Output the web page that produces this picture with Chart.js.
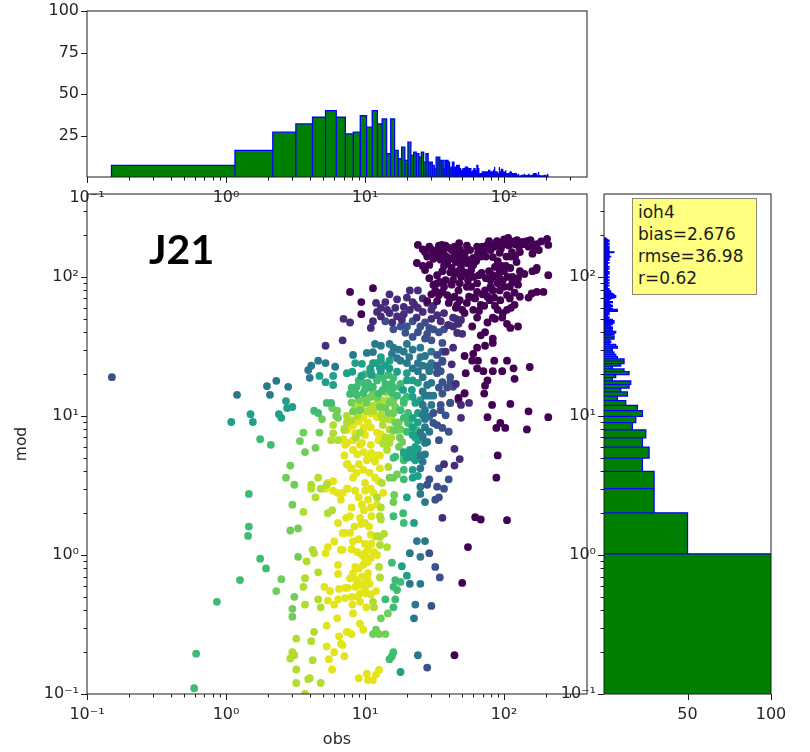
<!DOCTYPE html>
<html>
<head>
<meta charset="utf-8">
<script src="https://cdn.jsdelivr.net/npm/chart.js@4"></script>
<style>
  html, body { margin: 0; background: #fff; }
  #page { position: relative; width: 810px; height: 752px; overflow: hidden; }
  #page canvas { position: absolute; left: 0; top: 0; }
  #tag { position: absolute; left: 149px; top: 224px; font: 700 41px Lato, sans-serif; color: #000; }
  #stats { position: absolute; left: 632px; top: 198px; width: 118px; height: 91px; padding: 2px 0 2px 5px;
           background: #ffff80; border: 1px solid #8c8c70; font: 17px/22px "DejaVu Sans", sans-serif; color: #1c1c1c; }
</style>
</head>
<body>
<div id="page">
  <canvas id="mainChart" width="810" height="752"></canvas>
  <canvas id="topChart" width="810" height="752"></canvas>
  <canvas id="rightChart" width="810" height="752"></canvas>
  <div id="tag">J21</div>
  <div id="stats">ioh4<br>bias=2.676<br>rmse=36.98<br>r=0.62</div>
</div>
<script>
// axis values
const logTicks = [0.1, 1, 10, 100];
const logTickLabels = ["10\u207B\u00B9", "10\u2070", "10\u00B9", "10\u00B2"];
const minorFactors = [2, 3, 4, 5, 6, 7, 8, 9];
const logMin = 0.1;
const logMax = 395;

// histogram of obs: equal bins, counts
const obsBinStart = 0.15;
const obsBinWidth = 1.01;
const obsCounts = [7,16,27,32,36,40,36,26,27,37,30,40,32,35,14,35,16,11,18,10,21,13,15,14,12,15,9,14,9,9,7,5,12,
  12,10,10,5,10,10,9,5,6,9,5,6,7,7,5,3,4,5,5,6,6,5,4,5,3,2,4,5,4,3,7,5,2,2,2,1,3,2,3,3,
  3,3,3,2,4,3,3,3,2,3,4,6,2,3,3,2,2,1,6,2,3,5,1,5,2,3,1,1,4,2,2,1,2,1,1,3,1,3,1,0,
  0,2,1,2,0,1,0,2,0,1,0,1,2,0,1,0,1,0,1,0,1,0,1,1,0,2,0,1,0,1,0,1,0,1,0,2,1,0,1,0,
  1,0,1,0,1,1,0,1,0,2,1,0,1,0,2,1,0,1,0,1,0,3,1,1,0,1,0,1,1,0,1,0,0,1,1,0,1,0,0,1,
  0,1,0,0,1,0,0,1,0,2,0,1];

// histogram of mod: equal bins, counts
const modBinStart = 0.03;
const modBinWidth = 0.99;
const modCounts = [140,50,30,30,23,27,23,25,17,19,23,20,13,8,14,10,15,16,5,7,15,12,5,10,12,
  12,8,7,6,5,5,8,7,3,4,3,6,6,4,6,7,5,4,5,4,3,5,6,6,5,2,3,1,2,3,2,3,8,8,5,3,4,5,4,2,
  3,5,3,2,3,4,6,7,7,5,6,5,4,3,4,3,2,3,2,1,2,1,3,2,1,2,3,1,2,1,3,1,2,2,1,3,2,1,2,1,
  1,3,2,1,3,1,2,1,1,2,3,1,2,1,3,2,1,2,1,2,2,1,3,1,2,1,1,2,3,1,2,1,3,2,1,2,4,2,1,3,
  2,1,2,3,1,2,5,6,3,2,1,3,2,1,2,3,2,1,3,1,2,3,2,2,1,2,2,3,1,2,3,2,1,2,2,1,3,2,2,1,
  3,2,1,2,1,1,1,1];

// scatter points as [obs, mod], one list per density colour
const darkPoints = [[107,191],[124,184],[146,181],[155,184],[204,188],[208,170],[172,172],[178,156],[160,147],[130,151],
  [114,151],[97,175],[85,165],[93,149],[80,156],[76,170],[71,151],[83,139],[65,149],[60,137],[57,156],[52,144],[50,128],
  [60,122],[47,149],[42,156],[39,139],[45,128],[49,118],[36,151],[33,156],[31,149],[35,133],[39,126],[42,116],[27,151],
  [24,170],[29,165],[35.8,170],[47.5,175],[64,165],[78,181],[89,181],[100,186],[118,180],[136,179],[95,160],[70,165],
  [54,168],[40,162],[30,158],[44,143],[56,132],[68,140],[23.6,126],[26,120],[29,122],[27,112],[33,103],[29,98],[38,95],
  [34.5,92],[31,88],[43,95],[49,100],[55,95],[64,90],[69,107],[83,103],[93,109],[111,116],[123,128],[172,116],[160,110],
  [208,103],[126,98],[126,88],[98,95],[90,90],[80,85],[93,80],[105,74],[119,77],[192,78],[172,78],[158,76],[150,71],
  [119,63],[105,58],[90,58],[98,55],[85,71],[76,72],[68,63],[54,65],[60,58],[64,51],[50,58],[46,63],[40,65],[44,72],[39,74],
  [47,80],[54,85],[64,78],[60,71],[73,80],[83,80],[34,74],[32,80],[33,67],[28,67],[59,44],[76,47],[83,51],[97,51],[105,46],
  [111,43],[126,44],[73,40],[68,38],[83,36],[83,33.5],[73,32],[64,31],[60,28],[85,25],[105,25],[153,22.5],[83,21],[97,21],
  [117,22],[119,18.5],[76,18],[73,16.5],[72,14.5],[82,12],[111,12.2],[150,10.8],[208,9.8],[76,9.8],[94,8.9],[88,8.2],[102,8.2],
  [146,8],[90,5.2],[88,3.6],[62,1.87],[68,1.8],[105,1.78],[55,1.14],[50,0.63],[44,0.19],[7.8,78],[11.4,83],[9.4,66],[9.4,54],
  [53,20.3],[47,13.5],[52,14.6],[65,25],[59,25],[52,27],[64,22],[71,21],
  [33,140],[37,145],[41,135],[46,140],[51,135],[55,125],[52,150],[48,158],[44,165],[38,168],[34,168],[31,135],[28,140],[26,158],
  [37,120],[41,108],[47,110],[52,108],[58,112],[63,130],[68,150],[74,140],[78,160],[86,172],[92,168],[102,172],[108,168],[112,178],
  [120,172],[128,165],[140,172],[90,130],[96,120],[100,110],[106,100],[115,92],[103,120],[86,118],[78,110],[74,98],[66,103],[60,100],
  [54,105],[44,105],[36,110],[33,90],[37,85],[42,88],[48,90],[58,85],[62,70],[70,75],[79,68],[86,62],[94,68],[100,85],[110,85],
  [115,100],[130,110],[140,105],[30,75],[36,78],[41,70],[45,60],[52,55],[56,72],[48,68],[66,57],[72,62],[112,140],[120,140],[104,140],
  [150,165],[165,165],[185,180],[110,70],[130,72],[80,95],[86,100],[92,100],[112,60],[170,112],[86,50]];

const purplePoints = [[7,50],[7.8,47],[15,75],[21,80],[24,80],[12,65],[14,66],[17,69],[20,71],[22,66],[28,65],[12.2,56],
  [14.4,58],[16.5,60],[19,61],[22.7,63],[11.4,48],[11,43],[13,52],[15.7,47],[18.4,49],[23.5,51],[26,56],[33,53],[35,48],
  [39.5,45],[43,51],[45,50],[49,49],[47,46],[46,39.5],[50,39],[5.2,32],[6.9,35],[44,5.8],[48,4.9],[44,4.4],[37,4.5],[36,1.85],
  [49,9.7],[49,12],[56,12.4],[52,14.5],[47,13],[45,17],[42,23.5],[43,31],[38,29],
  [13,60],[15,55],[17,52],[19,54],[21,58],[24,60],[26,70],[30,50],[30,58],[31,62],[37,55],[40,45],[43,44]];

const bluePoints = [[0.151,19],[18,44],[19.5,39.6],[27,47],[29,43],[24,40],[34,40],[22,37],[27,36],[30,35],[36,33.5],[33,27.5],
  [36,24.5],[35,21],[33,20.5],[41,19],[39,16],[36,14.5],[41,12.4],[36,29],[36,25],[43,16.2],[41,17.3],[36,17.5],
  [34,4.2],[40,3.5],[33,3.1],[37,3],[34,2.6],[32,2.5],[30,0.43],[32,0.82],[34.5,0.69],[29,1.03],[28,0.155],[29,3.5],[28,3.2],
  [33,8.6],[36,8.2],[40,7.7],[38,10.1],[35,11],[35,12],[41,12.4],[34,6.7],
  [14,48],[16,42],[20,44],[22,48],[25,44],[37,42],[31,42],[28,39],[33,23],[34,16],[31,10.5],[31,8.9]];

const tealPoints = [[1.2,14.2],[1.97,16.4],[2.3,17.9],[2.07,14.2],[2.8,16.2],[3.9,21.4],[4.1,23],[4.6,25],[5.2,24],[6.1,22.6],
  [4,18.8],[8.2,27.5],[10.3,28.4],[11.4,28.8],[11.8,33],[13,32],[15,33],[20,33],[17.5,30],[15.6,28],[18,25],[20.8,26.5],[25,31],
  [25,26.5],[28.5,22.6],[26,23],[30,29],[33,20.3],[30,17.3],[28,16.7],[26,15],[30,12],[29,9.9],[26,12],[27,8.3],[29,7.7],[26,10.1],
  [27,6.4],[27,5.3],[25,5.2],[25,4.2],[25,3.1],[25,2.75],[27,2.4],[26,7.1],[23.6,1.26],[27,1.26],[25,0.97],[25,0.62],[24,0.19],
  [23,0.44],[22.5,0.35],[21,1.03],[21,0.62],
  [17,26],[22,22],[24,24],[19,29],[16,31],[22,30],[27,27],[20,24],[26,19],[29,21],[31,23],[24,21],[30,24],[31,14],[29,14],[27,14],
  [27,11],[27,9.5],[25,7.6],[28,6.5],[26,4.7]];

const seaPoints = [[1.09,9.05],[1.5,10.3],[1.56,9.05],[2.7,12.8],[2.75,11.4],[3,11.6],[2.4,10.3],[2.5,9.7],[4.7,19.4],[5.9,19.4],
  [5.2,17.5],[5.9,16.7],[7.4,20.3],[8.1,20.8],[8.5,24],[9.5,23.7],[13,26.5],[11.4,24],[13,25],[10.9,22],[12.8,22],[9.4,19.4],
  [11.1,19.7],[15,22],[17,20.8],[20,20.3],[20,18],[24,17.3],[21.7,15.4],[18.8,15.4],[22,13.7],[23,12.4],[24,6.7],[23,6],[21,5.7],
  [23,4.8],[22,4.1],[22,3.6],[20,2.6],[22.5,1.7],[20,0.71],[18.4,0.83],[18,0.144],[19,5.5],[20,5],[21,5.5],[22,5],[22,7.3],[22,8.3],
  [15,25],[22,18],[25,13],[24,10.5],[24,9],[22,9.7],[23,7],[24,5.8],[23,5.5],[24,3.7],[14,23],[12,24],[11,21],[13,21]];

const greenPoints = [[1.76,6.8],[2.1,6.2],[5.3,12.4],[5.7,12.4],[4.3,10.9],[4.6,10.5],[7.8,14.4],[8.5,14.6],[9.7,14.6],[8,16],[8.7,16.2],
  [9.7,17.3],[10.5,17.3],[12.2,18],[13.4,18.8],[14.7,19.7],[16,18.8],[8.7,14.2],[11.4,16.2],[13.4,15.4],[15.6,14.6],[18,11],
  [19,12.4],[20,13.7],[19,13],[20.4,10.5],[19,9.7],[21,9.4],[20,7.7],[20.4,8.9],[23.6,7.9],[24,7],[19,5.2],[19,4.8],[19,4.1],[19,3.5],
  [16,5],[16.5,5.1],[16,1.9],[18.8,2],[19,1.7],[16.5,0.66],[18,0.64],[16,0.59],[17,0.56],[16.5,0.48],[15.6,0.88],[16,0.2],[15.6,0.187],
  [15,0.178],[16,0.42],[14,0.48],[1.46,2.75],[1.46,1.6],[1.44,1.37],[0.61,0.195],[0.59,0.11],[0.86,0.46],[1.26,0.66],[1.76,0.94],[1.94,0.8],
  [10,20],[12,19],[14,17],[15.5,17],[11,16],[12.5,14.5],[10,15.5],[9,18],[16,16],[18,17],[17,14],[18,16],[15,16]];

const lightPoints = [[5.8,11.4],[6.3,10.9],[6.2,10],[6.4,9.7],[4.9,9.5],[3.6,7.6],[4.7,7.6],[3.4,6.6],[3.7,5.5],[4.4,5.9],[2.9,4.4],
  [2.7,3.6],[3.1,3.2],[3,2.3],[2.5,0.67],[2.3,0.55],[2.9,1.5],[3.3,1.55],[3.3,0.97],[3.1,0.5],[3,0.41],[3,0.36],[9.2,11],[8.2,10.8],
  [10.3,12.4],[11,13.7],[12.2,13.5],[11.4,14.9],[14,14.9],[12.8,11.6],[14,11.4],[16.5,11.6],[14.7,10.5],[16.5,7.9],[16,7.9],[17,3.8],
  [16,3.6],[15,3.6],[16.2,2.7],[16,2.4],[14,0.27],[14.6,0.38],[13,0.35],[12.6,0.27],[11.4,0.27],[12,0.29],
  [8,12.5],[9,13],[10,13.5],[15,12.5],[16,13],[16,10.5],[16.5,9],[17,8],[17.8,7],[17.5,9],[18,8],[18.5,6.5],[17.5,6]];

const limePoints = [[5.9,8.6],[7.1,8.1],[5.9,7.5],[5.7,6.7],[6.4,6.7],[4.6,3.6],[4.1,3.2],[4.1,3],[4.8,3],[5.3,3.2],[4.4,2.6],[3.6,2.04],
  [5.4,2],[5.8,2.1],[3.8,0.9],[4.2,1.09],[4.3,1.03],[4.6,0.75],[3.7,0.68],[3.6,0.59],[3.7,0.44],[4.6,0.48],[4.8,0.42],[4.3,0.28],[3.2,0.25],
  [4.1,0.24],[3,0.2],[3.1,0.19],[2.9,0.18],[4.2,0.175],[3.2,0.15],[4,0.13],[3.9,0.128],[4.8,0.12],[3.2,0.12],[3.7,0.1],[7.4,10],[7.1,7.9],
  [9.2,7.6],[8.6,7],[13.4,8.6],[15,9.4],[14,7],[14.4,5.7],[14.7,4.3],[13.2,3.3],[12.2,2.6],[12.8,1.9],[13,1.8],[13.7,1.42],[14.4,1.14],
  [12.8,1.18],[12.8,1.35],[12.2,1.37],[13,2.2],[12.8,0.69],[12.6,0.82],[11.4,0.46],[11.6,0.42],
  [8.5,11.5],[9.5,12],[10.8,11],[11.5,11.8],[13,10.2],[13,13],[15.5,10],[13.2,12.2],[14.5,13],[12,12],[11.5,10.8],[13.5,9.5],[10.3,10.8],
  [8.8,10],[8,9.3],[7.4,9],[15,8],[15.5,7],[15,6.4],[13.5,6.3]];

const yellowPoints = [[7,6.8],[7.4,6.4],[7.1,5.2],[7.4,4.5],[7.9,4.2],[5.4,3.3],[5.9,3.4],[5.2,3],[5.9,2.9],[6.3,2.8],[6.9,2.8],[7.5,3],[6.7,2.5],
  [6.4,1.7],[7.3,1.85],[7.1,1.44],[5.4,1.14],[5.2,1.03],[6.7,1.09],[6.4,0.85],[6.4,0.73],[5.1,0.59],[5.6,0.55],[6.5,0.57],[7.2,0.58],[7.2,0.49],
  [5.4,0.47],[6,0.44],[6.4,0.48],[6.3,0.35],[5.3,0.31],[6.5,0.26],[6.7,0.23],[5.3,0.22],[6,0.2],[7.1,0.187],[7.5,0.28],[5.5,0.178],[5.8,0.15],
  [6.9,1.44],[7.8,1.44],[11.8,1.35],[11.1,1.2],[10,1.2],[10.5,1.09],[10,1.03],[8,1.1],[6.9,1.09],[10.5,0.89],[9.7,0.85],[9,0.8],
  [8.2,0.74],[10.5,0.74],[8.7,0.66],[8.5,0.59],[7.5,0.58],[9.2,0.61],[10,0.58],[9.2,0.53],[10.2,0.53],[9.2,0.46],[8.1,0.44],[10.2,0.42],
  [8.2,0.38],[9.2,0.32],[9.7,0.29],[7.4,0.28],[8,0.27],[6.9,0.225],[9,0.13],[10.3,0.14],[12.6,0.149],[12,0.138],[10.5,0.126],[11.4,0.126],
  [9,9.1],[9.7,9.7],[11,10.4],[12.2,9.8],[11,8.3],[12.2,7.6],[10,7.3],[9.2,6.2],[11,6.2],[12.8,5.2],[11.1,5.4],[10.3,4.8],[11.8,4.7],[12.8,4.2],
  [11.8,3.6],[9.7,4.1],[10,3.3],[8.2,3.6],[11,3],[9,2.6],[10.5,2.5],[12.2,2.3],[9.8,2.1],[11.1,1.9],[9.2,1.85],[9.4,1.67],[10.7,1.6],[7,1.44],
  [8.2,5.7],[7.2,6.2],[7.5,4.5],[8,4.2],[7.4,3],[9.5,6.4],[8.5,7.5],[8.2,6.7],[11.4,5],[12.2,5.2],[10.5,5],
  [12.5,6.7],[10.5,9],[9.8,8.2],[8.2,8.5],[7.5,8],[13,7.4],[8.8,5.3],[9.8,5.5],[9,4.5],[8.7,3.9],[10.8,3.9],[12.5,3.4],[11.5,2.8],[13.5,2.8],[10,2.9],[8.5,2.9],
  [8,2.2],[9.5,2.3],[11,2.2],[10,1.7],[7.8,1.9],[8.4,1.6],[11,1.4],[9,1.3],[8.2,1.25],[6,1.25],[11,0.95],[11.6,1.05],[12.2,1],[9.5,1],[8.8,1.05],
  [9.8,0.62],[10.8,0.62],[11,0.52],[12,0.55],[8,0.5],[8.9,0.5],[7.8,0.68],[8.5,0.82],[10,0.95],[10.4,0.68],[9.5,0.7]];

const pointGroups = [darkPoints, purplePoints, bluePoints, tealPoints, seaPoints, greenPoints, lightPoints, limePoints, yellowPoints];
const groupColors = ["#440154", "#472c7a", "#3b518b", "#2a788e", "#1fa088", "#3fbc73", "#6ece58", "#b0dd2f", "#e3e419"];

const textColor = "#262626";
const tickFont = { family: "'DejaVu Sans'", size: 16 };

// spines and tick marks, minor ones are shorter than in Chart.js grid options
const frameTicks = {
  id: "frameTicks",
  afterDatasetsDraw(chart) {
    const c = chart.ctx, a = chart.chartArea;
    c.save();
    c.strokeStyle = "#1c1c1c";
    c.lineWidth = 1;
    c.strokeRect(a.left, a.top, a.right - a.left, a.bottom - a.top);
    for (const id of ["x", "y"]) {
      const s = chart.scales[id];
      let marks = [];
      if (s.type === "logarithmic") {
        for (const d of logTicks) {
          marks.push([d, 6]);
          for (const m of minorFactors) {
            if (d * m <= logMax) marks.push([d * m, 3.5]);
          }
        }
      } else {
        marks = s.ticks.filter(t => t.value > 0).map(t => [t.value, 6]);
      }
      c.beginPath();
      for (const [v, len] of marks) {
        const p = Math.round(s.getPixelForValue(v)) + 0.5;
        if (id === "x") { c.moveTo(p, a.bottom); c.lineTo(p, a.bottom + len); }
        else { c.moveTo(a.left, p); c.lineTo(a.left - len, p); }
      }
      c.stroke();
    }
    c.restore();
  }
};

function logAxis(horizontal, extra) {
  return Object.assign({
    type: "logarithmic",
    min: logMin,
    max: logMax,
    grid: { display: false, drawTicks: true, tickLength: 6 },
    border: { display: false },
    afterBuildTicks: s => { s.ticks = logTicks.map(v => ({ value: v })); },
    ticks: {
      color: textColor, font: tickFont, padding: horizontal ? 5 : 2, autoSkip: false, maxRotation: 0, minRotation: 0,
      callback: (v, i) => logTickLabels[i]
    }
  }, extra);
}

function countAxis(step, horizontal, extra) {
  return Object.assign({
    type: "linear",
    min: 0,
    max: 100,
    grid: { display: false, drawTicks: true, tickLength: 6 },
    border: { display: false },
    ticks: {
      color: textColor, font: tickFont, padding: horizontal ? 5 : 2, stepSize: step,
      callback: v => (v === 0 ? "" : String(v))
    }
  }, extra);
}

// fix the outer size of a scale so the plot boxes land where the figure has them
function fixHeight(h) {
  return s => { s.height = h; s.paddingLeft = s.paddingRight = s.paddingTop = s.paddingBottom = 0; };
}
function fixWidth(w) {
  return s => { s.width = w; s.paddingLeft = s.paddingRight = s.paddingTop = s.paddingBottom = 0; };
}

// outline of a histogram: every bin goes down to the base so the separators show
function barOutline(start, width, counts, countKey, binKey) {
  const out = [];
  counts.forEach((n, i) => {
    const lo = start + i * width, hi = lo + width;
    for (const [b, v] of [[lo, 0], [lo, n], [hi, n], [hi, 0]]) {
      out.push({ [binKey]: b, [countKey]: v });
    }
  });
  return out;
}

function histDataset(points) {
  return {
    data: points, showLine: true, pointRadius: 0, borderColor: "#0000ff", borderWidth: 1.3,
    backgroundColor: "#008000", fill: "origin", tension: 0
  };
}

const baseOptions = { responsive: false, animation: false, events: [], plugins: { legend: { display: false }, tooltip: { enabled: false } } };

new Chart(document.getElementById("mainChart"), {
  type: "scatter",
  data: {
    datasets: pointGroups.map((g, i) => ({
      data: g.map(p => ({ x: p[0], y: p[1] })),
      backgroundColor: groupColors[i],
      borderWidth: 0,
      pointRadius: 3.9
    }))
  },
  options: Object.assign({}, baseOptions, {
    layout: { padding: { left: 0, top: 194, right: 223, bottom: 0 } },
    scales: {
      x: logAxis(true, {
        afterFit: fixHeight(58),
        title: { display: true, text: "obs", color: textColor, font: { family: "'DejaVu Sans'", size: 16 }, padding: { top: 3, bottom: 3 } }
      }),
      y: logAxis(false, {
        afterFit: fixWidth(87),
        title: { display: true, text: "mod", color: textColor, font: { family: "'DejaVu Sans'", size: 15.5 }, padding: { top: 13, bottom: 13 } }
      })
    }
  }),
  plugins: [frameTicks]
});

new Chart(document.getElementById("topChart"), {
  type: "scatter",
  data: { datasets: [histDataset(barOutline(obsBinStart, obsBinWidth, obsCounts, "y", "x"))] },
  options: Object.assign({}, baseOptions, {
    layout: { padding: { left: 0, top: 11, right: 223, bottom: 0 } },
    scales: {
      x: logAxis(true, { afterFit: fixHeight(575) }),
      y: countAxis(25, false, { afterFit: fixWidth(87) })
    }
  }),
  plugins: [frameTicks]
});

new Chart(document.getElementById("rightChart"), {
  type: "scatter",
  data: { datasets: [histDataset(barOutline(modBinStart, modBinWidth, modCounts, "x", "y"))] },
  options: Object.assign({}, baseOptions, {
    indexAxis: "y",
    layout: { padding: { left: 0, top: 194, right: 39, bottom: 0 } },
    scales: {
      x: countAxis(50, true, { afterFit: fixHeight(58) }),
      y: logAxis(false, { afterFit: fixWidth(604) })
    }
  }),
  plugins: [frameTicks]
});
</script>
</body>
</html>
